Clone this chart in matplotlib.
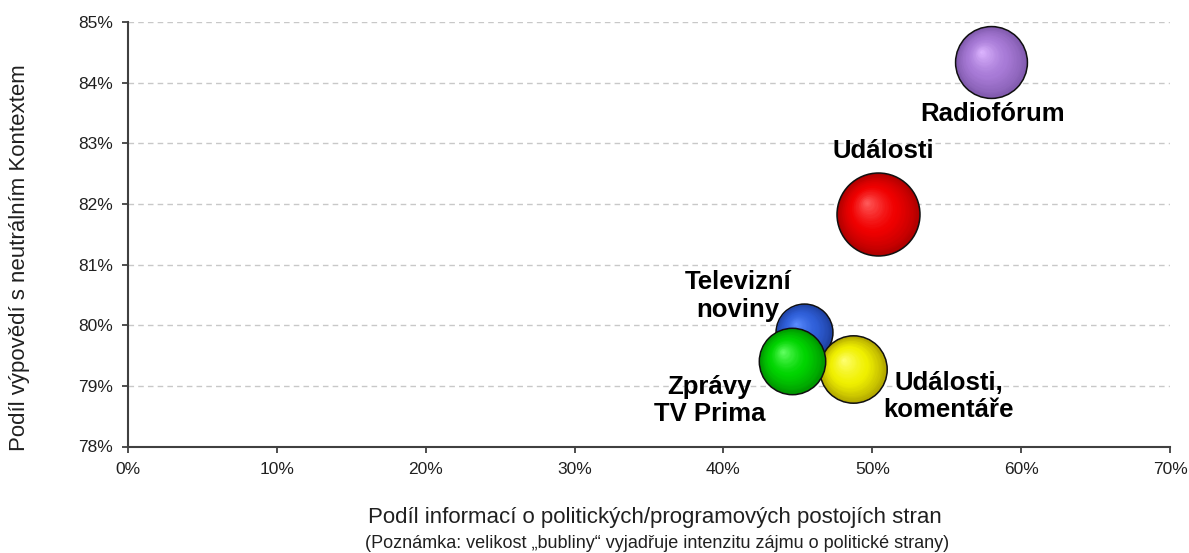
import numpy as np
import matplotlib
matplotlib.use("Agg")
import matplotlib.pyplot as plt
from matplotlib.ticker import FuncFormatter, MultipleLocator
from matplotlib.colors import to_rgb
import matplotlib.transforms as mtransforms

plt.rcParams['font.family'] = ['Liberation Sans', 'DejaVu Sans']

# ---- data ----
labels = ["Radiofórum", "Události", "Televizní\nnoviny", "Události,\nkomentáře", "Zprávy\nTV Prima"]
podil_informaci = [58.0, 50.4, 45.4, 48.7, 44.6]      # x, %
neutralni_kontext = [84.34, 81.83, 79.89, 79.27, 79.41]  # y, %
intenzita_zajmu = [7.5, 10.0, 4.7, 6.6, 6.4]            # bubble size (relative)
highlight_colors = ["#dcb4ff", "#ff5a5a", "#5a8cff", "#ffff70", "#60ff60"]
body_colors = ["#a77ad6", "#f00000", "#2f5fd8", "#f0f000", "#00d400"]
rim_colors = ["#7c56a8", "#a80000", "#1c3c98", "#a89c00", "#008c00"]
label_offsets_pt = [(0.7, -37.4), (3.6, 45.4), (-47.5, 25.6), (69, -19.4), (-59, -28.4)]

fig = plt.figure(figsize=(11.89, 5.53), dpi=100)
ax = fig.add_axes([128/1189, 1-446.5/553, (1170-128)/1189, (446.5-22)/553])

ax.set_xlim(0, 70)
ax.set_ylim(78, 85)
ax.xaxis.set_major_locator(MultipleLocator(10))
ax.yaxis.set_major_locator(MultipleLocator(1))
ax.xaxis.set_major_formatter(FuncFormatter(lambda v, p: f"{v:.0f}%"))
ax.yaxis.set_major_formatter(FuncFormatter(lambda v, p: f"{v:.0f}%"))

ax.grid(axis='y', linestyle=(0, (4, 3)), color='#c8c8c8', linewidth=1.0)
ax.set_axisbelow(True)
for s in ['top', 'right']:
    ax.spines[s].set_visible(False)
for s in ['left', 'bottom']:
    ax.spines[s].set_color('#404040')
    ax.spines[s].set_linewidth(1.5)
ax.tick_params(axis='both', direction='out', length=4, width=1.3, color='#404040',
               labelsize=12.5, labelcolor='#202020')
ax.tick_params(axis='x', pad=7)
ax.tick_params(axis='y', pad=7)

s_max = 3570.0
max_int = max(intenzita_zajmu)
N = 28
for i in range(len(labels)):
    s_full = intenzita_zajmu[i] / max_int * s_max
    r_pt = np.sqrt(s_full) / 2
    hi = np.array(to_rgb(highlight_colors[i]))
    bo = np.array(to_rgb(body_colors[i]))
    ri = np.array(to_rgb(rim_colors[i]))
    ax.scatter([podil_informaci[i]], [neutralni_kontext[i]], s=s_full, color=ri,
               edgecolor='#101010', linewidth=1.1, zorder=3 + i)
    for k in range(1, N):
        t = k / (N - 1)
        f = 1 - 0.97 * t
        if t < 0.45:
            c = ri + (bo - ri) * (t / 0.45) ** 0.7
        else:
            c = bo + (hi - bo) * ((t - 0.45) / 0.55) ** 1.3
        dx = -0.28 * r_pt * t
        dy = 0.28 * r_pt * t
        tr = ax.transData + mtransforms.ScaledTranslation(dx / 72, dy / 72, fig.dpi_scale_trans)
        ax.scatter([podil_informaci[i]], [neutralni_kontext[i]], s=s_full * f * f,
                   color=np.clip(c, 0, 1), linewidth=0, transform=tr, zorder=3 + i)

for i in range(len(labels)):
    ax.annotate(labels[i], (podil_informaci[i], neutralni_kontext[i]),
                xytext=label_offsets_pt[i], textcoords='offset points',
                ha='center', va='center', fontsize=18.5, fontweight='bold',
                color='#000000', linespacing=1.2, zorder=20)

fig.text(655/1189, 1-518/553, "Podíl informací o politických/programových postojích stran",
         ha='center', va='center', fontsize=16, color='#202020')
fig.text(657/1189, 1-543/553, "(Poznámka: velikost „bubliny“ vyjadřuje intenzitu zájmu o politické strany)",
         ha='center', va='center', fontsize=13, color='#202020')
fig.text(20/1189, 1-258/553, "Podíl výpovědí s neutrálním Kontextem",
         ha='center', va='center', rotation=90, fontsize=16, color='#202020')

fig.savefig("out.png", dpi=100)
